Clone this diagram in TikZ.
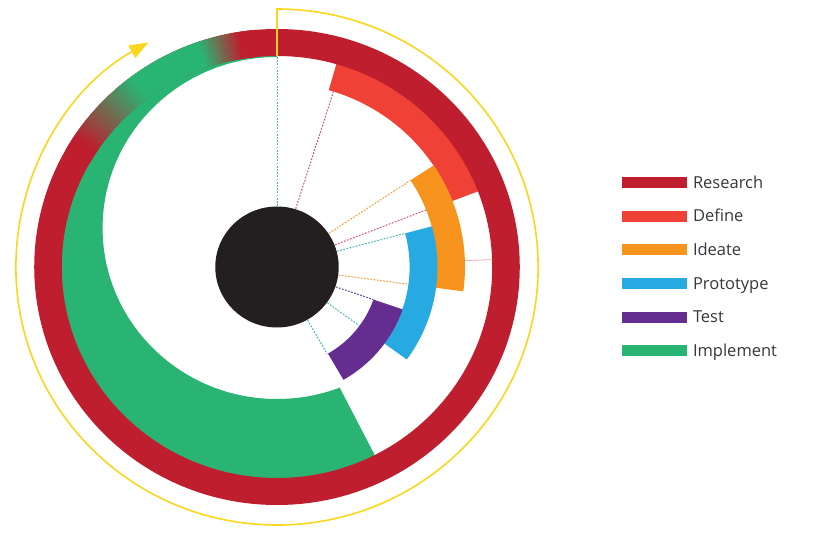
\documentclass[tikz,border=0pt]{standalone}
\usepackage{fontspec}
\setmainfont{Open Sans}
\usetikzlibrary{arrows.meta}
\definecolor{resred}{RGB}{190,30,45}
\definecolor{defred}{RGB}{239,65,54}
\definecolor{ideor}{RGB}{247,148,29}
\definecolor{protblue}{RGB}{39,170,225}
\definecolor{testpur}{RGB}{102,45,145}
\definecolor{impgreen}{RGB}{42,180,115}
\definecolor{blk}{RGB}{35,31,32}
\definecolor{yel}{RGB}{250,214,30}
\definecolor{dteal}{RGB}{70,180,190}
\definecolor{dpink}{RGB}{210,80,120}
\definecolor{dorange}{RGB}{242,160,60}
\definecolor{dpurple}{RGB}{100,70,150}
\definecolor{lpink}{RGB}{235,170,185}
\definecolor{legtext}{RGB}{55,55,55}
\newcommand{\annseg}[5]{\fill[#1] ({#2}:#4) arc[start angle={#2},end angle={#3},radius=#4] -- ({#3}:#5) arc[start angle={#3},end angle={#2},radius=#5] -- cycle;}
\tikzset{
  dline/.style={line width=1pt, dash pattern=on 1.8pt off 1.4pt},
  legbar/.style={minimum width=65.6pt, minimum height=11pt, inner sep=0pt, outer sep=0pt},
  legtxt/.style={anchor=base west, inner sep=0pt, text=legtext, font=\fontsize{16.5}{19}\selectfont}
}
\begin{document}
\begin{tikzpicture}[x=1pt,y=1pt]
\useasboundingbox (0,-548) rectangle (817,0);
\begin{scope}[shift={(277,-267)},xscale=1.02]
  % Implement crescent
  \begin{scope}
    \clip (0,0) -- (90:215) arc[start angle=90,end angle=297,radius=215] -- cycle;
    \fill[impgreen,even odd rule] (0,0) circle[radius=211.5] (0,39) circle[radius=171];
  \end{scope}
  % phase segments
  \annseg{defred}{21}{74}{184}{212}
  \annseg{ideor}{-7.6}{33.5}{157}{184.3}
  \annseg{protblue}{-36}{15}{130}{157.3}
  \annseg{testpur}{-60}{-19}{100}{130.3}
  % Research ring
  \fill[resred,even odd rule] (0,0) circle[radius=238] (0,0) circle[radius=211];
  \foreach \a in {95,95.5,...,150}{
    \pgfmathsetmacro\g{max(0,min(100,(\a-99)*10,100-(\a-127)*5))}
    \fill[impgreen!\g!resred] ({\a-0.2}:211) arc[start angle={\a-0.2},end angle={\a+0.7},radius=211] -- ({\a+0.7}:238) arc[start angle={\a+0.7},end angle={\a-0.2},radius=238] -- cycle;
  }
  % dashed guide lines
  \draw[dline,dteal] (90:61) -- (90:211);
  \draw[dline,dpink] (72.5:61) -- (72.5:184);
  \draw[dline,dorange] (33.5:61) -- (33.5:157);
  \draw[dline,dpink] (21.3:61) -- (21.3:157);
  \draw[dline,dteal] (15:61) -- (15:130);
  \draw[dline,dorange] (-7.6:61) -- (-7.6:130);
  \draw[dline,dpurple] (-19:61) -- (-19:100);
  \draw[dline,dteal] (-36:61) -- (-36:100);
  \draw[dline,dteal] (-60.5:61) -- (-60.5:100);
  \draw[lpink,line width=0.8pt] (2:184.3) -- (2:211);
  % center
  \fill[blk] (0,0) circle[radius=60.5];
  % yellow cycle arrow
  \draw[yel,line width=1.6pt,-{Triangle[length=19pt,width=14pt]}] (90:211) -- (0,258) arc[start angle=90,end angle=-240.5,x radius=256,y radius=258];
\end{scope}
% legend
\foreach \n/\c/\t/\y in {res/resred/Research/182.7, def/defred/Define/216.2, ide/ideor/Ideate/249.8, pro/protblue/Prototype/283.4, tes/testpur/Test/317, imp/impgreen/Implement/350.6}{
  \node[legbar,fill=\c] (bar\n) at (654.5,-\y) {};
  \node[legtxt] (lab\n) at ([xshift=5.5pt,yshift=-5.8pt]bar\n.east) {\t};
}
\end{tikzpicture}
\end{document}
